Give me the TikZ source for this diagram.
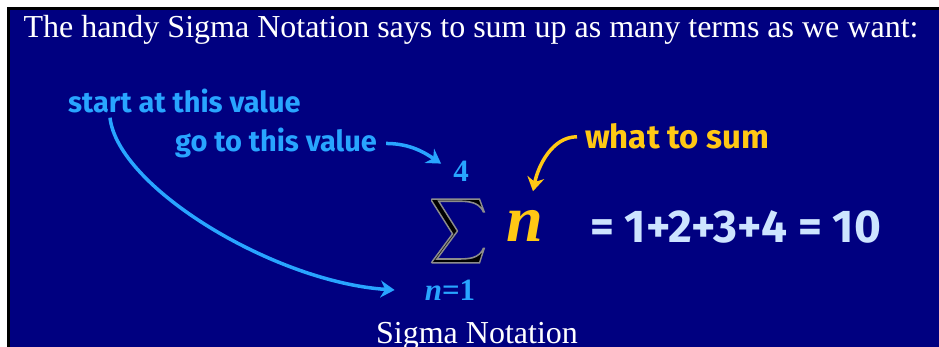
\documentclass[tikz,border=0pt]{standalone}
\usepackage{fontspec}
\usepackage{graphicx}
\usepackage{xcolor}
\setmainfont{Liberation Serif}
\newfontfamily\handfont{Fira Sans}
\usetikzlibrary{arrows.meta}
\definecolor{navybg}{RGB}{0,0,128}
\definecolor{skyblue}{RGB}{40,165,255}
\definecolor{paleblue}{RGB}{205,228,255}
\definecolor{sumgold}{RGB}{255,200,20}
% grey rim round the big sigma
\newcommand\rimmed[1]{\special{pdf:literal direct 2 Tr 0.55 G 0.35 w}#1\special{pdf:literal direct 0 Tr}}

\begin{document}
\begin{tikzpicture}[x=1pt,y=-1pt,
  heading/.style={text=white,inner sep=0pt,font=\fontsize{32}{32}\selectfont},
  hand/.style={text=skyblue,inner sep=0pt,font=\handfont\bfseries\fontsize{29}{29}\selectfont},
  limit/.style={text=skyblue,inner sep=0pt,font=\bfseries\fontsize{31}{31}\selectfont},
  pointer/.style={draw=skyblue,line width=3.5pt,-{Stealth[length=14pt,width=17pt]}}]
  \useasboundingbox (0,0) rectangle (939,347);
  \fill[white] (0,0) rectangle (939,347);
  \fill[black] (7,7) rectangle (939,347);
  \fill[navybg] (10,10) rectangle (939,347);
  \node[heading,anchor=base] (head) at (471,38)
    {The handy Sigma Notation says to sum up as many terms as we want:};
  \node[heading,anchor=base] (caption) at (477,343) {Sigma Notation};
  \node[hand,anchor=base west] (start) at (68,113) {start at this value};
  \node[hand,anchor=base west] (goto) at (175,152) {go to this value};
  \node[hand,anchor=base west,text=sumgold,font=\handfont\bfseries\fontsize{33}{33}\selectfont]
    (what) at (585,149) {what to sum};
  \node[inner sep=0pt] (sigma) at (458,231)
    {\resizebox*{57pt}{73pt}{\rimmed{$\displaystyle\sum$}}};
  \node[limit] (upper) at (461,171) {4};
  \node[limit] (lower) at (450,290) {\itshape n\upshape=1};
  \node[inner sep=0pt,text=sumgold,font=\bfseries\itshape\fontsize{66}{66}\selectfont]
    (term) at (525,226) {n};
  \node[hand,anchor=base west,text=paleblue,font=\handfont\bfseries\fontsize{46}{46}\selectfont]
    (result) at (590,243) {= 1+2+3+4 = 10};
  \draw[pointer] ([shift={(42,4)}]start.south west)
    .. controls +(8,70) and +(-120,-8) .. ([xshift=-30pt]lower.west);
  \draw[pointer] ([xshift=9pt]goto.east)
    .. controls +(25,0) and +(-15,-10) .. ([shift={(-12,3)}]upper.north west);
  \draw[pointer,draw=sumgold] ([xshift=-8pt]what.west)
    .. controls +(-25,0) and +(5,-25) .. ([shift={(8,-19)}]term.north);
\end{tikzpicture}
\end{document}
